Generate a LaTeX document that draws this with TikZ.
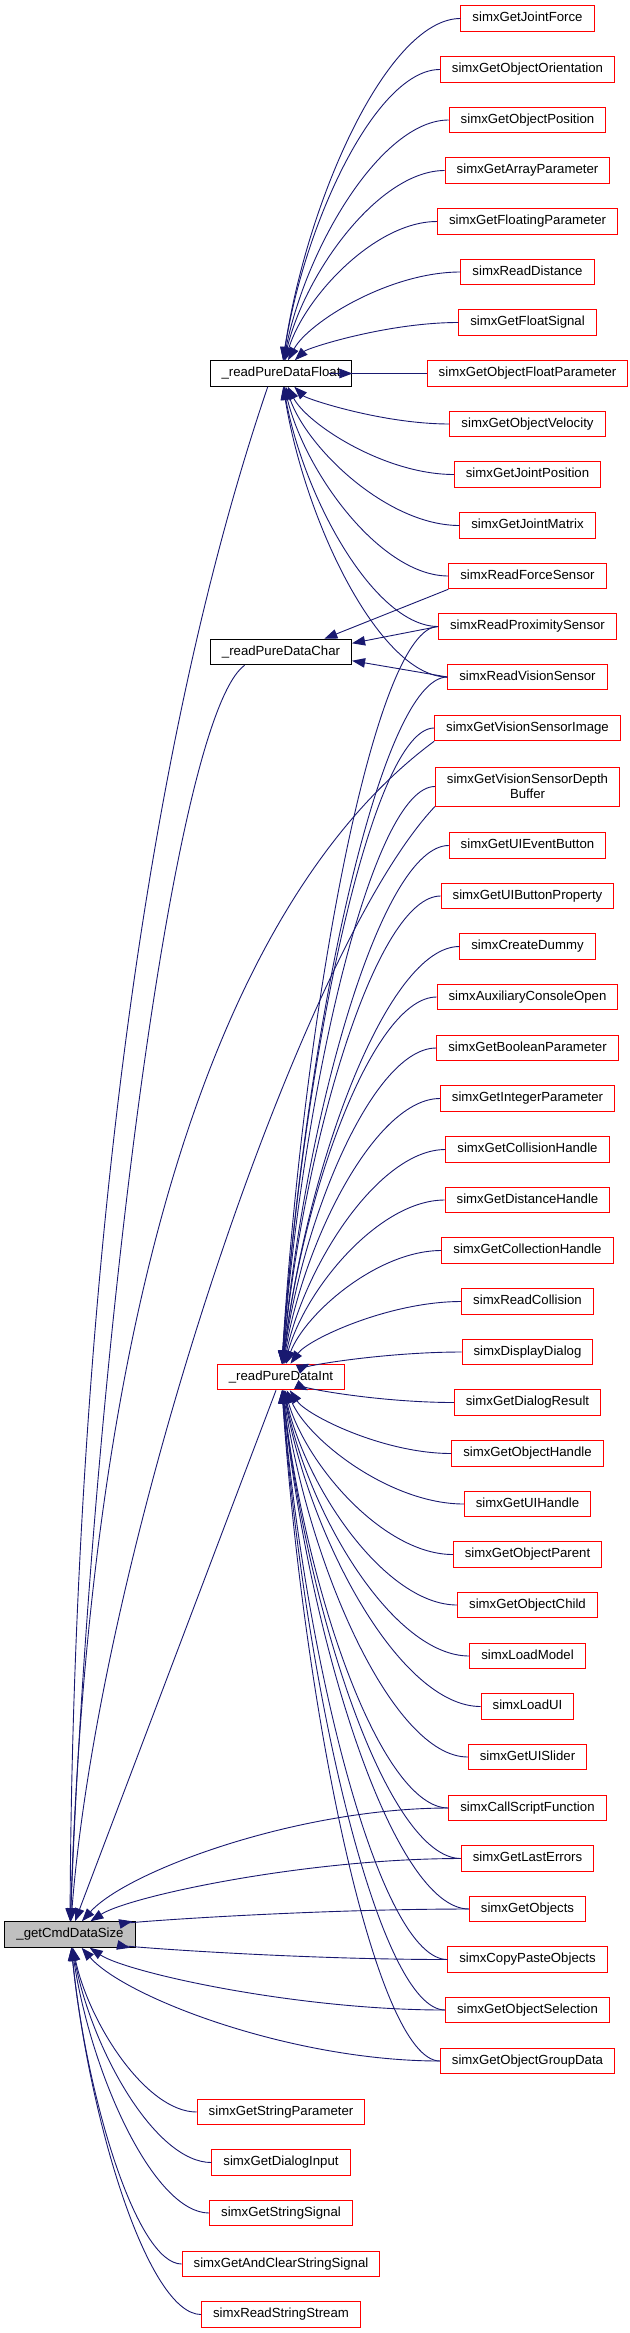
\documentclass[tikz,border=0pt]{standalone}
\usepackage{fontspec}
\setmainfont{Liberation Sans}
\usepackage{tikz}
\usetikzlibrary{arrows.meta,calc}

\definecolor{azulnoche}{RGB}{25,25,112}
\definecolor{grisnodo}{RGB}{191,191,191}

% arista de llamada: #1 = llamada, #2 = quien llama
\newcommand{\llamada}[2]{%
  \draw[arista] let \p1=(#1), \p2=(#2.west) in
    (#1) .. controls ({\x1+0.15*(\x2-\x1)},{\y1+0.5*(\y2-\y1)})
         and ({\x2-0.4*(\x2-\x1)},\y2) .. (#2.west);}

\begin{document}
\begin{tikzpicture}[x=1pt, y=-1pt,
  nodo/.style={rectangle, draw, line width=1pt, inner xsep=11.5pt, inner ysep=0pt,
    minimum height=25.5pt, text height=9.5pt, text depth=2.8pt,
    font=\fontsize{13.2}{14.6}\selectfont},
  negro/.style={nodo, draw=black, fill=white},
  rojo/.style={nodo, draw=red, fill=white},
  gris/.style={nodo, draw=black, fill=grisnodo},
  arista/.style={draw=azulnoche, line width=0.9pt, {Triangle[length=13pt,width=9.5pt]}-}
]
  \useasboundingbox (0,0) rectangle (629,2333);

  % funciones internas
  \node[negro] (float) at (281,373.5) {\_readPureDataFloat};
  \node[negro] (char)  at (281,652)   {\_readPureDataChar};
  \node[rojo]  (int)   at (281,1377)  {\_readPureDataInt};
  \node[gris]  (cmd)   at (70,1934.5) {\_getCmdDataSize};

  % columna derecha
  \foreach \n/\y/\t in {
      r1/18.5/simxGetJointForce, r2/69.5/simxGetObjectOrientation,
      r3/120/simxGetObjectPosition, r4/170.5/simxGetArrayParameter,
      r5/221.5/simxGetFloatingParameter, r6/272/simxReadDistance,
      r7/322.5/simxGetFloatSignal, r8/373.5/simxGetObjectFloatParameter,
      r9/424/simxGetObjectVelocity, r10/474.5/simxGetJointPosition,
      r11/525.5/simxGetJointMatrix, r12/576/simxReadForceSensor,
      r13/626.5/simxReadProximitySensor, r14/677/simxReadVisionSensor,
      r15/728/simxGetVisionSensorImage,
      r17/845.5/simxGetUIEventButton, r18/896/simxGetUIButtonProperty,
      r19/946.5/simxCreateDummy, r20/997/simxAuxiliaryConsoleOpen,
      r21/1048/simxGetBooleanParameter, r22/1098.5/simxGetIntegerParameter,
      r23/1149.5/simxGetCollisionHandle, r24/1200/simxGetDistanceHandle,
      r25/1250.5/simxGetCollectionHandle, r26/1301.5/simxReadCollision,
      r27/1352/simxDisplayDialog, r28/1402.5/simxGetDialogResult,
      r29/1453.5/simxGetObjectHandle, r30/1504/simxGetUIHandle,
      r31/1554.5/simxGetObjectParent, r32/1605/simxGetObjectChild,
      r33/1656/simxLoadModel, r34/1706.5/simxLoadUI,
      r35/1757/simxGetUISlider, r36/1808/simxCallScriptFunction,
      r37/1858.5/simxGetLastErrors, r38/1909/simxGetObjects,
      r39/1959.5/simxCopyPasteObjects, r40/2010/simxGetObjectSelection,
      r41/2061/simxGetObjectGroupData}
    \node[rojo] (\n) at (527.5,\y) {\t};
  \node[rojo, align=center, text height={}, text depth={}, minimum height=39pt]
    (r16) at (527.5,786.5) {simxGetVisionSensorDepth\\Buffer};

  % columna de abajo
  \foreach \n/\y/\t in {
      b1/2112/simxGetStringParameter, b2/2162.5/simxGetDialogInput,
      b3/2213/simxGetStringSignal, b4/2264/simxGetAndClearStringSignal,
      b5/2314.5/simxReadStringStream}
    \node[rojo] (\n) at (281,\y) {\t};

  % llamadas
  \foreach \c in {r1,r2,r3,r4,r5,r6,r7,r8,r9,r10,r11,r12,r13,r14}
    \llamada{float}{\c};
  \foreach \c in {r13,r14,r15,r16,r17,r18,r19,r20,r21,r22,r23,r24,r25,r26,r27,
      r28,r29,r30,r31,r32,r33,r34,r35,r36,r37,r38,r39,r40,r41}
    \llamada{int}{\c};
  \foreach \c in {r36,r37,r38,r39,r40,r41,b1,b2,b3,b4,b5}
    \llamada{cmd}{\c};

  \draw[arista] (char.17) -- (r12.south west);
  \draw[arista] (char.7) -- (r13.west);
  \draw[arista] (char.-7) -- (r14.west);

  \draw[arista] (cmd) -- (int);
  \draw[arista] (cmd) .. controls (72,1500) and (110,850) .. (float.225);
  \draw[arista] (cmd) .. controls (90,1400) and (170,720) .. (char.200);
  \draw[arista] (cmd) .. controls (90,1300) and (220,900) .. (r15.south west);
  \draw[arista] (cmd) .. controls (100,1550) and (300,950) .. (r16.south west);
\end{tikzpicture}
\end{document}
